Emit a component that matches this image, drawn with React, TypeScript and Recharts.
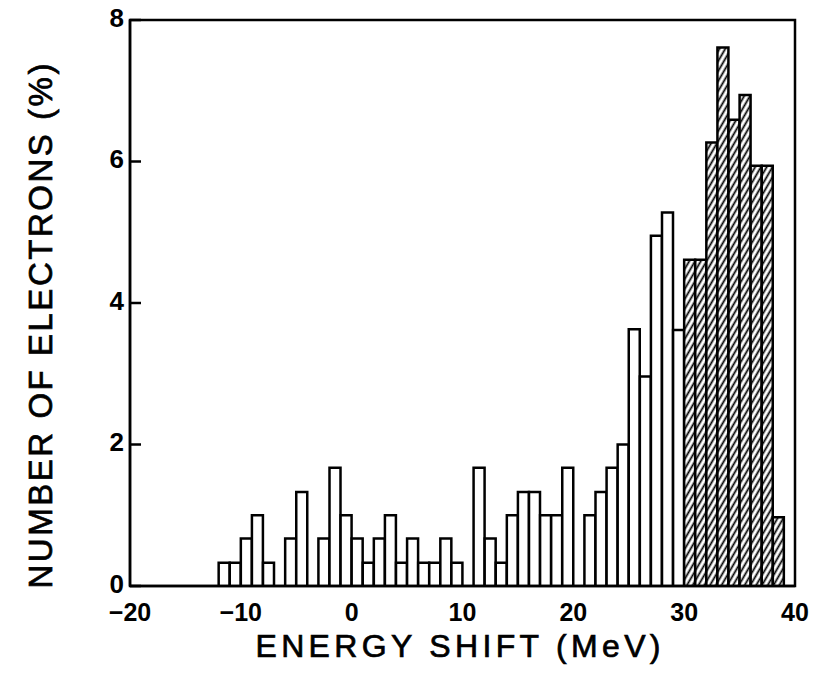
import { BarChart, Bar, XAxis, YAxis, Cell, ReferenceArea, Label } from 'recharts';

// energy bins (MeV), center of each 1 MeV bin
const binCenters = [
  -11.5, -10.5, -9.5, -8.5, -7.5, -6.5, -5.5, -4.5, -3.5, -2.5, -1.5, -0.5,
  0.5, 1.5, 2.5, 3.5, 4.5, 5.5, 6.5, 7.5, 8.5, 9.5, 10.5, 11.5, 12.5, 13.5,
  14.5, 15.5, 16.5, 17.5, 18.5, 19.5, 20.5, 21.5, 22.5, 23.5, 24.5, 25.5,
  26.5, 27.5, 28.5, 29.5, 30.5, 31.5, 32.5, 33.5, 34.5, 35.5, 36.5, 37.5, 38.5,
];

// open histogram, bins -12 .. 29
const openPct = [
  0.33, 0.33, 0.67, 1.0, 0.33, 0, 0.67, 1.33, 0, 0.67, 1.67, 1.0,
  0.67, 0.33, 0.67, 1.0, 0.33, 0.67, 0.33, 0.33, 0.67, 0.33, 0, 1.67,
  0.67, 0.33, 1.0, 1.33, 1.33, 1.0, 1.0, 1.67, 0, 1.0, 1.33, 1.67,
  2.0, 3.63, 2.96, 4.95, 5.28, 3.62,
];

// hatched histogram, bins 30 .. 38
const hatchedPct = [4.61, 4.61, 6.27, 7.61, 6.59, 6.94, 5.94, 5.94, 0.97];

const xTicks = [-20, -10, 0, 10, 20, 30, 40];
const yTicks = [0, 2, 4, 6, 8];

const data = binCenters.map((e, i) => ({
  energy: e,
  pct: i < openPct.length ? openPct[i] : hatchedPct[i - openPct.length],
  hatched: i >= openPct.length,
}));

const fmt = (v: number) => (v < 0 ? '\u2212' + Math.abs(v) : String(v));
const tickFont = "'Liberation Sans', Arial, sans-serif";
const titleFont = "'Liberation Sans', Arial, sans-serif";

const XTick = ({ x, y, payload }: any) => (
  <text x={x} y={y} dy={35} textAnchor="middle" fontSize={25} fontWeight="bold" fill="#000"
    fontFamily={tickFont}>
    {fmt(payload.value)}
  </text>
);

const YTick = ({ x, y, payload }: any) => (
  <g>
    <line x1={x} x2={x + 11} y1={y} y2={y} stroke="#000" strokeWidth={2.5} />
    <text x={x - 6} y={y} dy={6.5} textAnchor="end" fontSize={26} fontWeight="bold" fill="#000"
      fontFamily={tickFont}>
      {payload.value}
    </text>
  </g>
);

export default function App() {
  return (
    <div style={{ position: 'absolute', left: 0, top: 0, background: '#fff' }}>
      <BarChart width={816} height={679} data={data}
        margin={{ top: 20, right: 21, left: 0, bottom: 23 }}
        barCategoryGap={0} barGap={0}>
        <defs>
          <pattern id="hatch" patternUnits="userSpaceOnUse" width={5} height={5} patternTransform="rotate(30)">
            <rect width={5} height={5} fill="#fff" />
            <line x1={2.5} y1={0} x2={2.5} y2={5} stroke="#000" strokeWidth={1.8} />
          </pattern>
        </defs>
        <XAxis dataKey="energy" type="number" domain={[-20, 40]} allowDataOverflow ticks={xTicks}
          interval={0} height={70} tickLine={false} tickSize={0} tickMargin={0} tick={<XTick />}
          padding={{ left: 0, right: 0 }}
          axisLine={{ stroke: '#000', strokeWidth: 2.5 }}>
          <Label content={() => (
            <text x={458} y={657} textAnchor="middle" fontSize={32} fill="#000" stroke="#000"
              strokeWidth={0.7} fontFamily={titleFont} textLength={405} lengthAdjust="spacing">
              ENERGY SHIFT (MeV)
            </text>
          )} />
        </XAxis>
        <YAxis type="number" domain={[0, 8]} allowDataOverflow ticks={yTicks} interval={0} width={130}
          tickLine={false} tickSize={0} tickMargin={0} tick={<YTick />}
          axisLine={{ stroke: '#000', strokeWidth: 2.5 }}>
          <Label content={() => (
            <text x={52} y={326} transform="rotate(-90 52 326)" textAnchor="middle" fontSize={33}
              fill="#000" stroke="#000" strokeWidth={0.7} fontFamily={titleFont} textLength={525}
              lengthAdjust="spacing">
              NUMBER OF ELECTRONS (%)
            </text>
          )} />
        </YAxis>
        <ReferenceArea x1={-20} x2={40} y1={0} y2={8} fill="none" stroke="#000" strokeWidth={2.5}
          ifOverflow="visible" />
        <Bar dataKey="pct" stroke="#000" strokeWidth={2.5} isAnimationActive={false}>
          {data.map((d, i) => (
            <Cell key={i} fill={d.hatched ? 'url(#hatch)' : '#fff'} />
          ))}
        </Bar>
      </BarChart>
    </div>
  );
}
